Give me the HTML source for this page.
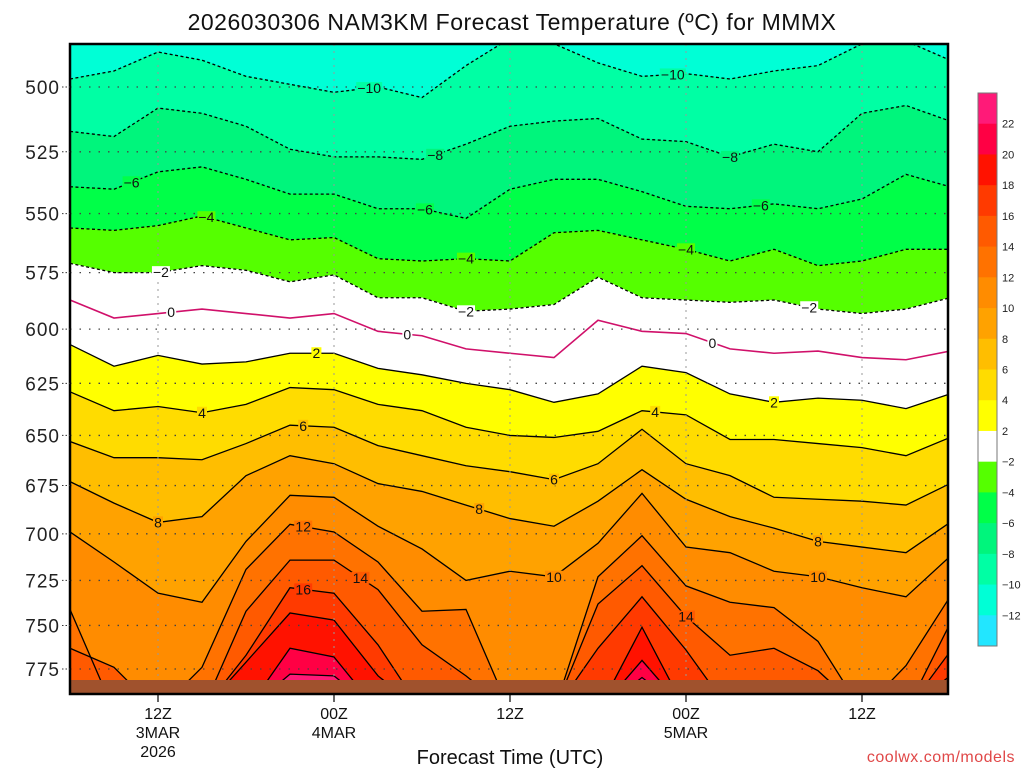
<!DOCTYPE html>
<html><head><meta charset="utf-8">
<style>
html,body{margin:0;padding:0;background:#fff;}
svg{display:block;font-family:"Liberation Sans",sans-serif;}
</style></head>
<body>
<svg id="chart" width="1024" height="768" viewBox="0 0 1024 768" xmlns="http://www.w3.org/2000/svg">
<text x="512" y="30" font-size="23" text-anchor="middle" fill="#111" letter-spacing="0.5">2026030306 NAM3KM Forecast Temperature (ºC) for MMMX</text>
<defs><clipPath id="plotclip"><rect x="70" y="44" width="878" height="650"/></clipPath></defs>
<g id="fills" clip-path="url(#plotclip)"></g>
<g id="lines" clip-path="url(#plotclip)"></g>
<g id="grid" clip-path="url(#plotclip)"></g>
<rect x="70" y="680" width="878" height="14" fill="#a0522d"/>
<g id="labels"></g>
<rect x="70" y="44" width="878" height="650" fill="none" stroke="#000" stroke-width="2.5"/>
<g id="yaxis"></g>
<g id="xaxis"></g>
<text x="510" y="764" font-size="20" text-anchor="middle" fill="#111">Forecast Time (UTC)</text>
<text x="1015" y="762" font-size="16" text-anchor="end" fill="#e04848" letter-spacing="0.5">coolwx.com/models</text>
<g id="colorbar"></g>
</svg>
<script>
const G = 800;
const hours = [0,3,6,9,12,15,18,21,24,27,30,33,36,39,42,45,48,51,54,57,60];
const isoM10 = [497,494,487,490,496,499,502,500,504,492,482,484,491,496,495,497,494,492,484,483,490];
const isoM8  = [517,519,508,510,515,524,527,527,528,522,515,513,512,520,521,527,522,525,510,507,513];
const isoM6  = [539,540,533,531,536,542,542,548,548,552,540,536,536,541,547,548,546,548,544,534,539];
const isoM4  = [556,557,555,551,556,561,560,569,570,569,570,558,557,561,565,570,565,572,570,565,565];
const isoM2  = [571,575,575,572,574,579,576,586,586,592,591,589,577,586,587,588,587,591,593,591,586];
const iso0   = [587,595,593,591,593,595,593,601,603,609,611,613,596,601,602,609,611,610,613,614,610];
const iso2   = [607,617,612,616,615,611,611,618,621,625,628,634,630,617,620,630,634,632,633,637,630];
const iso4   = [629,638,636,639,635,627,628,635,638,646,650,651,648,638,640,652,652,654,656,660,651];
const iso6   = [653,661,661,662,654,645,646,655,660,665,668,672,664,647,664,670,681,682,683,685,674];
const iso8   = [673,684,694,691,670,660,664,674,678,685,692,696,683,667,682,691,697,704,707,710,694];
const iso10  = [699,715,732,737,704,680,681,696,708,725,720,723,705,679,707,710,720,723,729,734,712];
const iso12  = [741,G,G,774,719,695,699,715,742,741,G,G,723,701,728,737,740,759,G,773,734];
const iso14  = [763,774,G,G,742,714,714,730,761,779,G,G,738,717,745,767,763,776,G,G,749];
const iso16  = [G,G,G,G,767,729,732,761,G,G,G,G,763,734,764,G,G,G,G,G,765];
const iso18  = [G,G,G,G,771,743,747,779,G,G,G,G,G,751,G,G,G,G,G,G,779];
const iso20  = [G,G,G,G,G,763,768,G,G,G,G,G,G,770,G,G,G,G,G,G,G];
const iso22  = [G,G,G,G,G,778,779,G,G,G,G,G,G,780,G,G,G,G,G,G,G];
const levels = [-10,-8,-6,-4,-2,0,2,4,6,8,10,12,14,16,18,20,22];
const series = [isoM10,isoM8,isoM6,isoM4,isoM2,iso0,iso2,iso4,iso6,iso8,iso10,iso12,iso14,iso16,iso18,iso20,iso22];
const bgColor = "#00ffd6";
const bandColors = ["#00ffa4","#00f57c","#00ff48","#55ff00","#ffffff","#ffffff","#ffff00","#ffdc00","#ffbe00","#ffa200","#ff8c00","#ff7200","#ff5a00","#ff3a00","#ff1200","#ff0044","#ff1a78"];
const pressureTicks = [500,525,550,575,600,625,650,675,700,725,750,775];
const timeTickHours = [6,18,30,42,54];
const timeTickLine1 = ["12Z","00Z","12Z","00Z","12Z"];
const timeTickLine2 = ["3MAR","4MAR","","5MAR",""];
const timeTickLine3 = ["2026","","","",""];
const labelLevels = [-10,-10,-8,-8,-6,-6,-6,-4,-4,-4,-2,-2,-2,0,0,0,2,2,4,4,6,6,8,8,8,10,10,12,14,14,16];
const labelHours  = [20.4,41.1,24.9,45,4.2,24.2,47.1,9.3,27,42,6.2,27,50.4,6.9,23,43.8,16.8,48,9,39.9,15.9,33,6,27.9,51,33,51,15.9,19.8,42,15.9];
const cbarLabels = [22,20,18,16,14,12,10,8,6,4,2,-2,-4,-6,-8,-10,-12];
const cbarColors = ["#ff1a78","#ff0044","#ff1200","#ff3a00","#ff5a00","#ff7200","#ff8c00","#ffa200","#ffbe00","#ffdc00","#ffff00","#ffffff","#55ff00","#00ff48","#00f57c","#00ffa4","#00ffd6","#22e6ff"];

const NS="http://www.w3.org/2000/svg";
function xScale(h){return 70 + h*(176/12);}
function yScale(p){return 87 + 1328*Math.log(p/500);}
function mk(tag,attrs,parent){const e=document.createElementNS(NS,tag);for(const k in attrs)e.setAttribute(k,attrs[k]);parent.appendChild(e);return e;}

const fills=document.getElementById('fills');
const bg=mk('rect',{x:70,y:44,width:878,height:650,fill:bgColor},fills);


series.forEach((s,i)=>{
  let d="M"+xScale(hours[0])+","+yScale(s[0]);
  for(let j=1;j<s.length;j++) d+=" L"+xScale(hours[j])+","+yScale(s[j]);
  d+=" L"+xScale(hours[hours.length-1])+",760 L"+xScale(hours[0])+",760 Z";
  const p=mk('path',{d:d,fill:bandColors[i],stroke:bandColors[i],'stroke-width':0.5},fills);
  
  
});
const lines=document.getElementById('lines');
series.forEach((s,i)=>{
  let d="M"+xScale(hours[0])+","+yScale(s[0]);
  for(let j=1;j<s.length;j++) d+=" L"+xScale(hours[j])+","+yScale(s[j]);
  const L=levels[i];
  const attrs={d:d,fill:'none',stroke:L===0?'#d0106a':'#000','stroke-width':L===0?1.6:1.3};
  if(L<0) attrs['stroke-dasharray']='3,2.5';
  const p=mk('path',attrs,lines);
  
  
});
const grid=document.getElementById('grid');
pressureTicks.forEach(p=>{
  const y=yScale(p);
  const l=mk('line',{x1:70,x2:948,y1:y,y2:y,stroke:'#444','stroke-width':1.3,'stroke-dasharray':'1.5,8'},grid);
  
  
});
timeTickHours.forEach(h=>{
  const x=xScale(h);
  const l=mk('line',{x1:x,x2:x,y1:44,y2:694,stroke:'#999','stroke-width':1,'stroke-dasharray':'2,5'},grid);
  
  
});
const yax=document.getElementById('yaxis');
pressureTicks.forEach(p=>{
  const y=yScale(p);
  const t=mk('line',{x1:62,x2:70,y1:y,y2:y,stroke:'#333','stroke-width':1,'stroke-dasharray':'1.5,2'},yax);
  
  
  const tx=mk('text',{x:60,y:y+7,'font-size':19,'text-anchor':'end',fill:'#222','letter-spacing':'1'},yax);
  tx.textContent=p;
  
  
});
const xax=document.getElementById('xaxis');
timeTickHours.forEach((h,i)=>{
  const x=xScale(h);
  const t=mk('line',{x1:x,x2:x,y1:695,y2:702,stroke:'#000','stroke-width':1.2},xax);
  
  
  [timeTickLine1[i],timeTickLine2[i],timeTickLine3[i]].forEach((s,k)=>{
    if(!s) return;
    const tx=mk('text',{x:x,y:719+k*19,'font-size':16,'text-anchor':'middle',fill:'#111'},xax);
    tx.textContent=s;
    
    
  });
});
const lab=document.getElementById('labels');
labelLevels.forEach((L,i)=>{
  const h=labelHours[i];
  const s=series[levels.indexOf(L)];
  let j=Math.min(Math.floor(h/3),hours.length-2);
  const f=(h-hours[j])/3;
  const p=s[j]+(s[j+1]-s[j])*f;
  if(p>=G-5) return;
  const bi=levels.indexOf(L);
  const txt=L<0?'\u2212'+(-L):String(L);
  const w=txt.length*8+2;
  const bgr=mk('rect',{x:xScale(h)-w/2,y:yScale(p)-6,width:w,height:12,fill:bandColors[bi]},lab);
  
  
  const tx=mk('text',{x:xScale(h),y:yScale(p)+5,'font-size':14,'text-anchor':'middle',fill:'#111'},lab);
  tx.textContent=txt;
  
  
});
const cb=document.getElementById('colorbar');
const segH=553/cbarColors.length;
cbarColors.forEach((c,i)=>{
  const r=mk('rect',{x:978,y:93+i*segH,width:19,height:segH+0.5,fill:c},cb);
  
  
});
const cbo=mk('rect',{x:978,y:93,width:19,height:553,fill:'none',stroke:'#777','stroke-width':1},cb);


cbarLabels.forEach((v,i)=>{
  const y=93+(i+1)*segH;
  const tx=mk('text',{x:1002,y:y+4,'font-size':11,fill:'#222'},cb);
  tx.textContent=v<0?'\u2212'+(-v):String(v);
  
  
});
</script>
</body></html>
